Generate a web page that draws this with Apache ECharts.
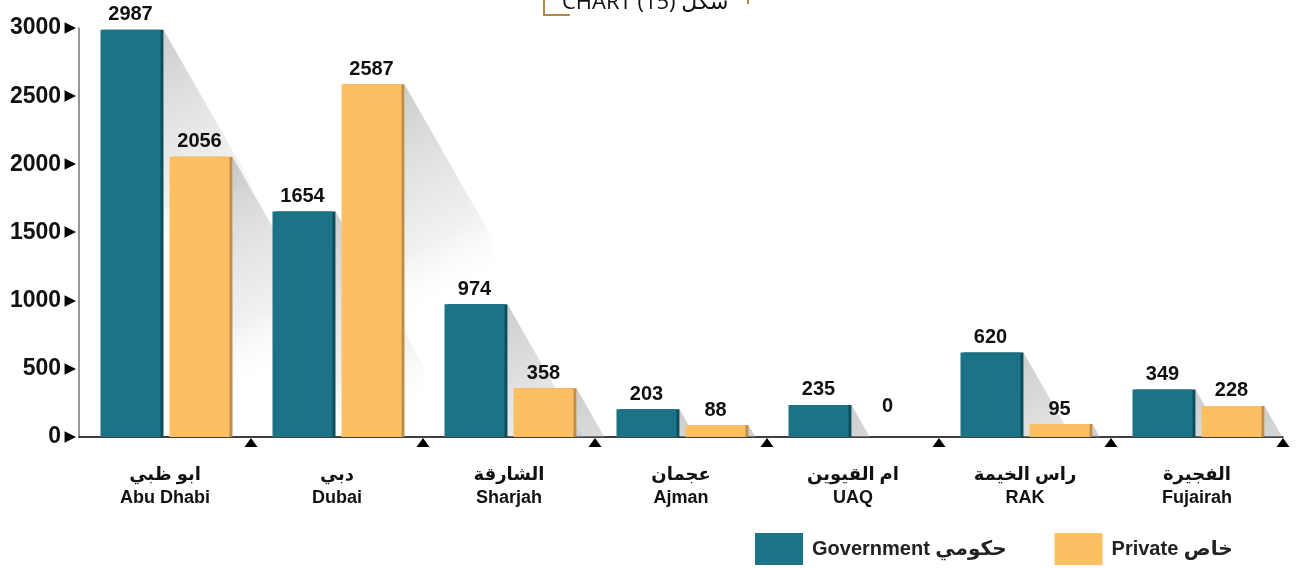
<!DOCTYPE html>
<html>
<head>
<meta charset="utf-8">
<script src="https://cdn.jsdelivr.net/npm/echarts@6/dist/echarts.min.js"></script>
<style>
  html, body { margin: 0; padding: 0; background: #fff; }
  #chart { width: 1301px; height: 568px; }
</style>
</head>
<body>
<div id="chart"></div>
<script>
var emiratesAr = ['ابو ظبي', 'دبي', 'الشارقة', 'عجمان', 'ام القيوين', 'راس الخيمة', 'الفجيرة'];
var emiratesEn = ['Abu Dhabi', 'Dubai', 'Sharjah', 'Ajman', 'UAQ', 'RAK', 'Fujairah'];
var government = [2987, 1654, 974, 203, 235, 620, 349];
var privateSector = [2056, 2587, 358, 88, 0, 95, 228];
var yTicks = [0, 500, 1000, 1500, 2000, 2500, 3000];

var chart = echarts.init(document.getElementById('chart'));

var BAR_W = 60, EDGE = 3, GAP = 9;
var FONT = 'Liberation Sans, DejaVu Sans, sans-serif';

// grey diagonal shade behind each bar (+ the little triangle at the category edge)
function shadeRenderer(side, withMarker) {
  return function (params, api) {
    var i = api.value(0), v = api.value(1);
    var base = api.coord([i, 0]);
    var top = api.coord([i, v]);
    var band = api.size([1, 0])[0];
    var center = base[0] + side * (BAR_W + GAP) / 2;
    var right = center + BAR_W / 2 + EDGE;
    var h = base[1] - top[1];
    var children = [];
    if (h > 1) {
      var d = Math.min(h / 1.75, 88);
      children.push({
        type: 'polygon',
        shape: { points: [[right, top[1]], [right + d, top[1] + d * 1.75], [right + d, base[1]], [right, base[1]]] },
        style: {
          fill: new echarts.graphic.LinearGradient(right, top[1], right + 120, top[1] + 220, [
            { offset: 0, color: 'rgba(160,163,167,0.55)' },
            { offset: 0.6, color: 'rgba(190,190,190,0.22)' },
            { offset: 0.85, color: 'rgba(255,255,255,0)' }
          ], true)
        }
      });
    }
    if (withMarker) {
      var mx = base[0] + band / 2;
      children.push({
        type: 'polygon',
        shape: { points: [[mx, base[1] + 1], [mx - 6.5, base[1] + 10], [mx + 6.5, base[1] + 10]] },
        style: { fill: '#000' }
      });
    }
    return { type: 'group', children: children };
  };
}

var labelStyle = {
  show: true,
  position: 'top',
  distance: 5,
  color: '#111',
  fontSize: 20,
  fontWeight: 'bold',
  fontFamily: FONT
};

chart.setOption({
  animation: false,
  title: {
    text: 'CHART (15) شكل',
    left: 557,
    top: -13,
    textStyle: { fontSize: 22, fontWeight: 'normal', color: '#111', fontFamily: 'Open Sans, DejaVu Sans, sans-serif' }
  },
  graphic: [
    { type: 'polyline', shape: { points: [[544, 0], [544, 15], [570, 15]] }, style: { stroke: '#b08a45', lineWidth: 2, fill: null } },
    { type: 'line', shape: { x1: 748, y1: 0, x2: 748, y2: 4 }, style: { stroke: '#b08a45', lineWidth: 2 } }
  ],
  legend: {
    left: 750,
    top: 528,
    itemWidth: 48,
    itemHeight: 32,
    itemGap: 48,
    icon: 'rect',
    data: ['Government حكومي', 'Private خاص'],
    textStyle: { fontSize: 20, fontWeight: 'bold', color: '#222', fontFamily: FONT, padding: [0, 0, 0, 4] }
  },
  grid: { left: 79, right: 18, top: 28, bottom: 131 },
  xAxis: {
    type: 'category',
    data: emiratesEn.map(function (en, i) { return emiratesAr[i] + '\n' + en; }),
    axisLine: { lineStyle: { color: '#000', width: 1.5 } },
    axisTick: { show: false },
    axisLabel: {
      margin: 27,
      color: '#111',
      fontSize: 18,
      fontWeight: 'bold',
      lineHeight: 23,
      fontFamily: FONT
    }
  },
  yAxis: {
    type: 'value',
    min: 0,
    max: 3000,
    interval: 500,
    axisLine: { show: true, lineStyle: { color: '#777', width: 1.5 } },
    axisTick: { show: false },
    splitLine: { show: false },
    axisLabel: {
      margin: 3,
      formatter: function (v) { return yTicks.indexOf(v) >= 0 ? '{v|' + v + '} {t|▶}' : ''; },
      rich: {
        v: { fontSize: 23, fontWeight: 'bold', color: '#111', fontFamily: FONT },
        t: { fontSize: 15, color: '#000', fontFamily: 'DejaVu Sans' }
      }
    }
  },
  series: [
    {
      type: 'custom',
      z: 1,
      renderItem: shadeRenderer(-1, true),
      data: government.map(function (v, i) { return [i, v]; }),
      silent: true
    },
    {
      type: 'custom',
      z: 1,
      renderItem: shadeRenderer(1, false),
      data: privateSector.map(function (v, i) { return [i, v]; }),
      silent: true
    },
    {
      name: 'Government حكومي',
      type: 'bar',
      z: 3,
      barWidth: BAR_W,
      barGap: (GAP / BAR_W * 100) + '%',
      data: government,
      itemStyle: { color: '#1b7385', shadowColor: '#0d4e5b', shadowOffsetX: EDGE, shadowBlur: 0 },
      label: labelStyle
    },
    {
      name: 'Private خاص',
      type: 'bar',
      z: 3,
      barWidth: BAR_W,
      data: privateSector.map(function (v) {
        return v === 0 ? { value: v, label: { offset: [0, -16] } } : v;
      }),
      itemStyle: { color: '#fdbf62', shadowColor: '#c08e4b', shadowOffsetX: EDGE, shadowBlur: 0 },
      label: labelStyle
    }
  ]
});
</script>
</body>
</html>
